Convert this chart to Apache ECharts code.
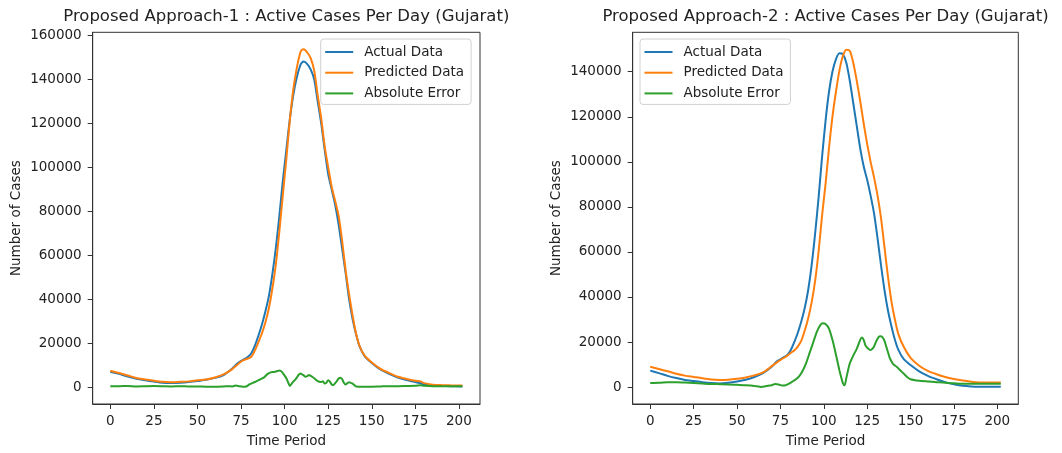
<!DOCTYPE html>
<html><head><meta charset="utf-8">
<script src="https://cdn.jsdelivr.net/npm/echarts@6.0.0/dist/echarts.min.js"></script>
<style>html,body{margin:0;padding:0;background:#fff}#c{width:1062px;height:453px}</style>
</head><body><div id="c"></div>
<script>
const titleLeft = 'Proposed Approach-1 : Active Cases Per Day (Gujarat)';
const titleRight = 'Proposed Approach-2 : Active Cases Per Day (Gujarat)';
const xName = 'Time Period';
const yName = 'Number of Cases';
const seriesNames = ['Actual Data', 'Predicted Data', 'Absolute Error'];
const xTicks = [0, 25, 50, 75, 100, 125, 150, 175, 200];
const yTicksLeft = [0, 20000, 40000, 60000, 80000, 100000, 120000, 140000, 160000];
const yTicksRight = [0, 20000, 40000, 60000, 80000, 100000, 120000, 140000];

// Left panel (Approach-1)
const leftX = [0,5,10,15,20,25,30,35,40,45,50,55,60,65,70,73,76,79,81,83,85,87,89,91,93,95,97,99,101,103,105,107,109,110,111,113,115,117,119,121,123,125,127,129,131,133,135,137,139,141,143,146,150,155,160,165,170,175,178,180,185,190,195,202];
const leftActual = [7000,6000,4800,3800,3100,2500,2000,1900,2000,2300,2800,3300,4200,5500,8500,10800,12300,13800,15500,19000,23500,28500,34500,41500,51500,63500,78000,94000,108000,122000,133000,141000,146500,147800,148200,147000,144500,140000,130000,120000,108000,97000,90000,83000,74000,63000,52000,40000,31000,24000,18500,14000,11000,8000,6000,4300,3200,2300,1800,1200,700,500,400,300];
const leftPredicted = [7400,6400,5300,4100,3500,2900,2400,2200,2400,2600,3100,3500,4400,5800,8200,10300,12100,13000,13900,16800,20500,24500,29500,36000,45000,56000,71000,87600,104000,121500,135500,145300,152300,153600,153800,152300,149600,144000,132700,122300,109600,100100,91200,84800,77900,66600,53200,42200,32600,24300,18700,14200,11200,8300,6400,4700,3700,2900,2600,1800,1100,900,800,700];
const leftErrX = [0,5,10,15,20,25,30,35,40,45,50,55,60,65,68,70,72,74,76,78,80,82,84,86,88,90,92,94,96,97,98,99,100,101,102,103,104,105,106,107,108,109,110,111,112,113,114,115,116,117,118,119,120,121,122,123,124,125,126,127,128,129,130,131,132,133,134,135,136,137,138,139,140,141,145,150,155,160,165,170,175,178,180,185,190,195,200,202];
const leftError = [400,400,500,300,400,500,400,300,400,300,300,200,200,300,400,300,700,400,200,300,1300,2000,2700,3500,4300,5800,6700,6900,7300,7500,7200,6400,5200,4000,2200,500,1500,2500,3300,4300,5500,6200,5800,5300,4700,5000,5500,5100,4600,4000,3300,2700,2400,2300,2600,1600,2000,3100,2500,1200,900,1800,2700,3900,4300,3600,2000,1200,1800,2200,1900,1600,900,300,200,200,300,400,400,500,600,800,600,400,400,400,400,400];

// Right panel (Approach-2)
const rightX = [0,5,10,15,20,25,30,35,40,45,50,55,60,65,70,73,76,79,81,83,85,87,89,91,93,95,97,99,101,103,105,107,109,111,113,115,117,119,121,123,125,127,129,131,133,135,137,139,141,143,146,150,155,160,165,170,175,180,185,190,195,202];
const rightActual = [7300,6200,5000,4000,3200,2700,2200,1800,1600,1900,2500,3300,4500,6200,9000,11500,12800,14300,16500,20000,24000,29000,35000,43000,54000,68000,84000,102000,118000,131000,140000,145500,148200,147800,144000,136000,126000,116000,106000,98000,92000,85000,77000,66000,54000,43000,34000,27000,21000,16500,12500,9800,7000,5000,3500,2200,1300,600,300,200,200,200];
const rightPredicted = [9000,8000,7000,5900,5100,4500,3900,3400,3200,3300,3700,4300,5200,6500,9300,11000,12500,14000,15200,16300,18000,20500,25000,30500,37500,47000,60000,76000,90000,106000,120000,131000,140500,147000,149800,149300,144000,136000,127000,117000,108000,100000,93000,85000,75000,62000,49000,38000,30000,23500,18000,13000,9500,7200,5700,4500,3600,2900,2400,2100,2000,2000];
const rightErrX = [0,5,10,15,20,25,30,35,40,45,50,55,60,64,66,68,70,72,74,76,78,80,82,84,86,88,90,92,94,96,98,99.5,101,103,105,107,109,110,111,112,113,114,115,117,119,121,122,123,124,125,126,127,128,129,130,131,132,133,134,135,136,137,138,139,140,142,144,146,148,150,155,160,165,170,175,180,185,190,195,202];
const rightError = [1800,1900,2100,2200,2000,1800,1600,1400,1300,1200,1000,800,500,100,300,600,800,1400,1200,700,800,1500,2500,3500,5000,7500,11000,15500,20000,24500,27500,28300,28000,26000,21000,14500,7500,4500,1800,800,4000,7500,10500,14000,17000,21000,22000,21000,18500,17500,16800,16500,17000,18000,20000,21500,22500,22600,22000,20500,18000,15500,13000,11500,10200,9000,7500,6000,4500,3500,2800,2500,2200,1900,1700,1500,1500,1500,1500,1500];

const colors = ['#1f77b4', '#ff7f0e', '#2ca02c'];
const FONT = 'DejaVu Sans';
const TXT = '#222';
const FS = 13.5;

function pairs(xs, ys) { return xs.map((x, i) => [x, ys[i]]); }

function xAxisCfg(gridIndex) {
  return {
    type: 'value', gridIndex, min: -10.1, max: 212.1,
    name: xName, nameLocation: 'middle', nameGap: 30,
    nameTextStyle: { fontFamily: FONT, fontSize: FS, color: TXT },
    axisLine: { show: true, onZero: false, lineStyle: { color: '#333', width: 1 } },
    axisTick: { show: true, length: 5, customValues: xTicks, lineStyle: { color: '#333' } },
    axisLabel: { customValues: xTicks, margin: 10, fontFamily: FONT, fontSize: FS, color: TXT, formatter: v => String(v) },
    splitLine: { show: false }
  };
}
function yAxisCfg(gridIndex, min, max, ticks) {
  return {
    type: 'value', gridIndex, min, max,
    name: yName, nameLocation: 'middle', nameGap: 69, nameRotate: 90,
    nameTextStyle: { fontFamily: FONT, fontSize: FS, color: TXT },
    axisLine: { show: true, onZero: false, lineStyle: { color: '#333', width: 1 } },
    axisTick: { show: true, length: 5, customValues: ticks, lineStyle: { color: '#333' } },
    axisLabel: { customValues: ticks, margin: 11, fontFamily: FONT, fontSize: FS, color: TXT, formatter: v => String(v) },
    splitLine: { show: false }
  };
}
function lineSeries(name, idx, data, gi) {
  return {
    type: 'line', name, xAxisIndex: gi, yAxisIndex: gi, data,
    showSymbol: false, symbol: 'none', smooth: 0.25,
    color: colors[idx], lineStyle: { width: 2, color: colors[idx] },
    animation: false
  };
}
function legendCfg(left) {
  return {
    orient: 'vertical', left, top: 39,
    data: seriesNames, icon: 'rect', itemWidth: 28, itemHeight: 2, itemGap: 6.7,
    padding: [6, 7, 4, 4.5],
    backgroundColor: '#fff', borderColor: '#d0d0d0', borderWidth: 1, borderRadius: 3,
    textStyle: { fontFamily: FONT, fontSize: FS, color: TXT, lineHeight: 14, padding: [0, 0, 0, 6] },
    selectedMode: false
  };
}

const chart = echarts.init(document.getElementById('c'), null, { renderer: 'canvas' });
chart.setOption({
  animation: false,
  backgroundColor: '#fff',
  graphic: [
    { type: 'text', x: 286.3, y: 17, style: { text: titleLeft, align: 'center', verticalAlign: 'middle', font: '16.5px "DejaVu Sans"', fill: TXT } },
    { type: 'text', x: 825.5, y: 17, style: { text: titleRight, align: 'center', verticalAlign: 'middle', font: '16.5px "DejaVu Sans"', fill: TXT } }
  ],
  grid: [
    { left: 92.7, top: 32.3, width: 387.3, height: 377.7, show: true, borderColor: '#333', borderWidth: 1, backgroundColor: 'transparent' },
    { left: 632.7, top: 32.3, width: 385.6, height: 377.7, show: true, borderColor: '#333', borderWidth: 1, backgroundColor: 'transparent' }
  ],
  xAxis: [xAxisCfg(0), xAxisCfg(1)],
  yAxis: [yAxisCfg(0, -7700, 161500, yTicksLeft), yAxisCfg(1, -7500, 157500, yTicksRight)],
  legend: [legendCfg(320.7), legendCfg(640)],
  series: [
    lineSeries(seriesNames[0], 0, pairs(leftX, leftActual), 0),
    lineSeries(seriesNames[1], 1, pairs(leftX, leftPredicted), 0),
    lineSeries(seriesNames[2], 2, pairs(leftErrX, leftError), 0),
    lineSeries(seriesNames[0], 0, pairs(rightX, rightActual), 1),
    lineSeries(seriesNames[1], 1, pairs(rightX, rightPredicted), 1),
    lineSeries(seriesNames[2], 2, pairs(rightErrX, rightError), 1)
  ]
});
</script>
</body></html>
